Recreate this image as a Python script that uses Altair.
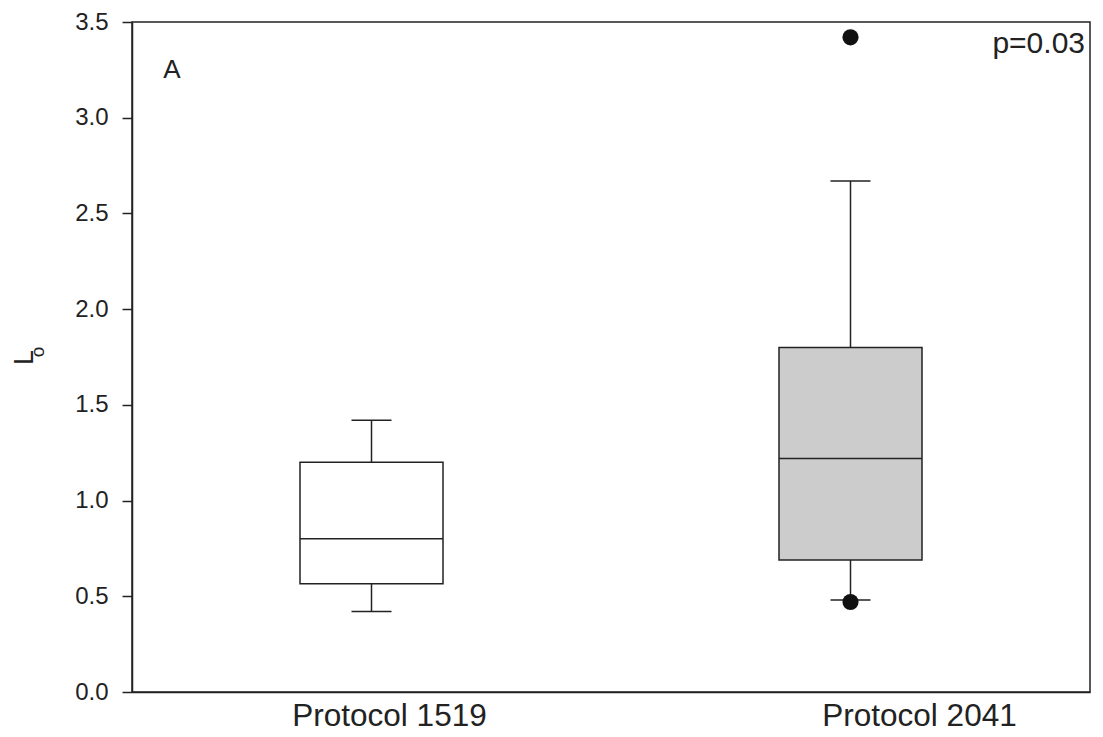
import altair as alt
import pandas as pd

groups = ["Protocol 1519", "Protocol 2041"]
q1 = [0.565, 0.69]
median = [0.80, 1.22]
q3 = [1.20, 1.80]
whisk_lo = [0.42, 0.48]
whisk_hi = [1.42, 2.67]
fills = ["#ffffff", "#cccccc"]
outlier_group = ["Protocol 2041", "Protocol 2041"]
outlier_val = [3.42, 0.47]
y_ticks = [0.0, 0.5, 1.0, 1.5, 2.0, 2.5, 3.0, 3.5]

FONT = "Liberation Sans"
INK = "#222222"

box_df = pd.DataFrame({
    "group": groups, "q1": q1, "median": median, "q3": q3,
    "lo": whisk_lo, "hi": whisk_hi,
})
out_df = pd.DataFrame({"group": outlier_group, "value": outlier_val})

xscale = alt.Scale(domain=groups, paddingInner=0, paddingOuter=0)
yscale = alt.Scale(domain=[0, 3.5], nice=False, zero=False)

x_enc = alt.X("group:N", scale=xscale, sort=groups, axis=alt.Axis(
    title=None, ticks=False, tickSize=0, labelFontSize=31.5, labelFont=FONT,
    labelColor=INK, labelPadding=8, labelAngle=0, labelLimit=0,
    labelOffset={"condition": {"test": "datum.value === 'Protocol 1519'",
                               "value": 18}, "value": 69},
    domainColor=INK, domainWidth=1.5, grid=False))

y_axis = alt.Axis(
    title="L", titleFontSize=27, titleFont=FONT, titleFontWeight="normal",
    titleColor=INK, titlePadding=36, values=y_ticks, format=".1f",
    labelFontSize=24, labelFont=FONT, labelColor=INK, labelPadding=14,
    tickSize=10, tickWidth=1.5, tickColor=INK, domainColor=INK,
    domainWidth=1.5, grid=False)

base = alt.Chart(box_df)

whisk_up = base.mark_rule(color=INK, strokeWidth=1.5).encode(
    x=x_enc, y=alt.Y("q3:Q", scale=yscale, axis=y_axis), y2="hi:Q")
whisk_down = base.mark_rule(color=INK, strokeWidth=1.5).encode(
    x=alt.X("group:N", scale=xscale, sort=groups),
    y=alt.Y("lo:Q", scale=yscale), y2="q1:Q")
cap_hi = base.mark_tick(color=INK, size=40, thickness=1.5, opacity=1).encode(
    x=alt.X("group:N", scale=xscale, sort=groups),
    y=alt.Y("hi:Q", scale=yscale))
cap_lo = base.mark_tick(color=INK, size=40, thickness=1.5, opacity=1).encode(
    x=alt.X("group:N", scale=xscale, sort=groups),
    y=alt.Y("lo:Q", scale=yscale))
boxes = base.mark_bar(size=143, stroke=INK, strokeWidth=1.5, opacity=1).encode(
    x=alt.X("group:N", scale=xscale, sort=groups),
    y=alt.Y("q1:Q", scale=yscale), y2="q3:Q",
    fill=alt.Fill("group:N", scale=alt.Scale(domain=groups, range=fills),
                  legend=None))
med = base.mark_tick(color=INK, size=143, thickness=1.5, opacity=1).encode(
    x=alt.X("group:N", scale=xscale, sort=groups),
    y=alt.Y("median:Q", scale=yscale))
outliers = alt.Chart(out_df).mark_circle(size=260, color="#111111",
                                         opacity=1).encode(
    x=alt.X("group:N", scale=xscale, sort=groups),
    y=alt.Y("value:Q", scale=yscale))

label_a = alt.Chart(pd.DataFrame({"t": ["A"]})).mark_text(
    font=FONT, fontSize=26, color=INK, align="center", baseline="middle"
).encode(text="t:N", x=alt.value(40), y=alt.value(48))
label_p = alt.Chart(pd.DataFrame({"t": ["p=0.03"]})).mark_text(
    font=FONT, fontSize=30, color=INK, align="right", baseline="middle"
).encode(text="t:N", x=alt.value(953), y=alt.value(22))
sub_o = alt.Chart(pd.DataFrame({"t": ["o"]})).mark_text(
    font=FONT, fontSize=19, color=INK, align="center", baseline="middle",
    angle=270
).encode(text="t:N", x=alt.value(-94), y=alt.value(330))

chart = alt.layer(
    whisk_up, whisk_down, cap_hi, cap_lo, boxes, med, outliers,
    label_a, label_p, sub_o
).properties(
    width=958, height=670,
    background="white",
    autosize=alt.AutoSizeParams(type="none"),
    padding={"left": 124, "top": 14, "right": 5, "bottom": 40},
).configure_view(stroke=INK, strokeWidth=1.5)

chart.save("out.html", embed_options={"renderer": "svg", "actions": False})
